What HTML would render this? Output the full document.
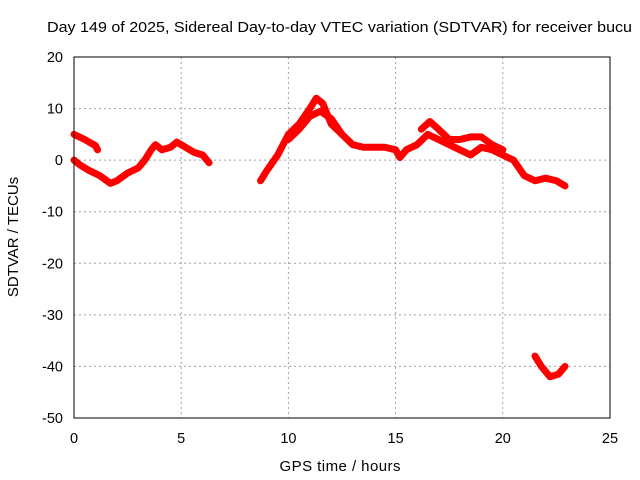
<!DOCTYPE html>
<html><head><meta charset="utf-8"><style>
body{margin:0;background:#fff;}
svg{display:block;font-family:"Liberation Sans",sans-serif;}
</style></head><body>
<svg id="chart" width="640" height="480">
<text x="47" y="32" font-size="15" textLength="585" lengthAdjust="spacingAndGlyphs">Day 149 of 2025, Sidereal Day-to-day VTEC variation (SDTVAR) for receiver bucu</text>
<text x="340" y="471" font-size="15" text-anchor="middle" textLength="121">GPS time / hours</text>
<text x="18" y="237" font-size="15" text-anchor="middle" transform="rotate(-90 18 237)">SDTVAR / TECUs</text>
<g id="grid"></g><g id="ticks"></g><g id="series"></g>
<rect x="74" y="57" width="536" height="361" fill="none" stroke="#000"/>
</svg>
<script>
const xTicks=[0,5,10,15,20,25];
const yTicks=[20,10,0,-10,-20,-30,-40,-50];
const trackA=[[0,5],[0.5,4],[1,2.8],[1.1,2]];
const trackB=[[0,0],[0.3,-1],[0.7,-2],[1.2,-3],[1.7,-4.5],[2,-4],[2.5,-2.5],[3,-1.5],[3.3,0],[3.6,2],[3.8,3],[4.1,2],[4.5,2.5],[4.8,3.5],[5.2,2.5],[5.6,1.5],[6,1],[6.3,-0.5]];
const trackC=[[8.7,-4],[9,-2],[9.5,1],[10,5],[10.5,7],[11,10],[11.3,12],[11.6,11],[12,7],[12.5,5],[13,3],[13.5,2.5],[14,2.5],[14.5,2.5],[15,2],[15.2,0.5],[15.5,2],[16,3],[16.5,5],[17,4],[17.5,3],[18,2],[18.5,1],[19,2.5],[19.5,2],[20,1],[20.5,0],[21,-3],[21.5,-4],[22,-3.5],[22.5,-4],[22.9,-5]];
const trackD=[[10,4],[10.5,6],[11,8.5],[11.5,9.5],[12,8],[12.5,5]];
const trackE=[[16.2,6],[16.6,7.5],[17,6],[17.5,4],[18,4],[18.5,4.5],[19,4.5],[19.5,3],[20,2]];
const trackF=[[21.5,-38],[21.8,-40],[22.2,-42],[22.6,-41.5],[22.9,-40]];
const series=[trackA,trackB,trackC,trackD,trackE,trackF];
const NS='http://www.w3.org/2000/svg';
const X=v=>74+v*(536/25);
const Y=v=>57+(20-v)*(361/70);
function mk(t,a){const e=document.createElementNS(NS,t);for(const k in a)e.setAttribute(k,a[k]);return e;}
const g=document.getElementById('grid'),tk=document.getElementById('ticks'),s=document.getElementById('series');
xTicks.forEach(v=>{
 if(v>0&&v<25){const l=mk('line',{x1:X(v),x2:X(v),y1:57,y2:418,stroke:'#a0a0a0','stroke-dasharray':'2,3'});
 
 g.appendChild(l);}
 const t=mk('text',{x:X(v),y:443,'font-size':14.5,'text-anchor':'middle'});t.textContent=v;
 
 tk.appendChild(t);
});
yTicks.forEach(v=>{
 if(v<20&&v>-50){const l=mk('line',{x1:74,x2:610,y1:Y(v),y2:Y(v),stroke:'#a0a0a0','stroke-dasharray':'2,3'});
 
 g.appendChild(l);}
 const t=mk('text',{x:63,y:Y(v)+5,'font-size':14.5,'text-anchor':'end'});t.textContent=v;
 
 tk.appendChild(t);
});
series.forEach((d,i)=>{
 const p=mk('polyline',{points:d.map(q=>X(q[0])+','+Y(q[1])).join(' '),fill:'none',stroke:'#ff0000','stroke-width':7,'stroke-linejoin':'round','stroke-linecap':'round'});
 
 
 s.appendChild(p);
});
</script>
</body></html>
